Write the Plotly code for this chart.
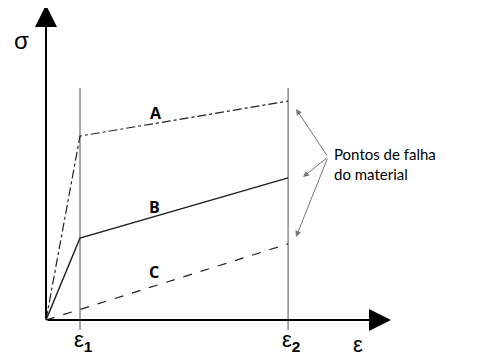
import plotly.graph_objects as go

# strain points (origin, eps1, eps2) and stress for the three materials
strain = [0.0, 1.0, 7.12]
stress_A = [0.0, 5.41, 6.44]
stress_B = [0.0, 2.41, 4.18]
stress_C = [0.0, 0.31, 2.24]
curve_labels = ["A", "B", "C"]
tick_labels = ["ε<sub><b>1</b></sub>", "ε<sub><b>2</b></sub>"]
note_text = "Pontos de falha<br>do material"

S = 34.0  # px per unit
W, H = 470, 352          # page body has an 8px margin
ox, oy = 46 - 8, 320 - 8
xr = [-ox / S, (W - ox) / S]
yr = [-(H - oy) / S, oy / S]

fig = go.Figure()

line_styles = [dict(dash="dashdot", width=1.2), dict(dash="solid", width=1.5), dict(dash="dash", width=1.2)]
for ys, st in zip([stress_A, stress_B, stress_C], line_styles):
    fig.add_trace(go.Scatter(x=strain, y=ys, mode="lines",
                             line=dict(color="#222", **st), hoverinfo="skip", showlegend=False))

# vertical lines at eps1, eps2
for xv in strain[1:]:
    fig.add_shape(type="line", x0=xv, x1=xv, y0=-10 / S, y1=232 / S,
                  line=dict(color="#555", width=1), layer="below")

# axes with arrows
fig.add_annotation(x=0, y=315 / S, ax=0, ay=0, xref="x", yref="y", axref="x", ayref="y",
                   showarrow=True, arrowhead=2, arrowsize=2.2, arrowwidth=2, arrowcolor="black", text="")
fig.add_annotation(x=345 / S, y=0, ax=0, ay=0, xref="x", yref="y", axref="x", ayref="y",
                   showarrow=True, arrowhead=2, arrowsize=2.2, arrowwidth=2, arrowcolor="black", text="")

font_main = "Liberation Sans, Arial, sans-serif"
fig.add_annotation(x=-25 / S, y=280 / S, text="σ", showarrow=False, font=dict(size=24, color="black", family=font_main))
fig.add_annotation(x=312 / S, y=-24 / S, text="ε", showarrow=False, font=dict(size=22, color="black", family=font_main))
for xv, t in zip(strain[1:], tick_labels):
    fig.add_annotation(x=xv + 3 / S, y=-21 / S, text=t, showarrow=False, yanchor="middle",
                       font=dict(size=22, color="black", family=font_main))

# curve labels
lab_pos = [(110 / S, 207 / S), (108 / S, 113 / S), (108 / S, 48 / S)]
for (lx, ly), t in zip(lab_pos, curve_labels):
    fig.add_annotation(x=lx, y=ly, text="<b>" + t + "</b>", showarrow=False,
                       font=dict(size=16, color="black", family="Open Sans, sans-serif"))

# failure note
tail = (282 / S, 163 / S)
heads = [(250 / S, 211 / S), (257 / S, 143 / S), (250 / S, 83 / S)]
for hx, hy in heads:
    fig.add_annotation(x=hx, y=hy, ax=tail[0], ay=tail[1], xref="x", yref="y", axref="x", ayref="y",
                       showarrow=True, arrowhead=2, arrowsize=1.2, arrowwidth=1, arrowcolor="#777", text="")
fig.add_annotation(x=286 / S, y=156 / S, text=note_text, showarrow=False, xanchor="left", yanchor="middle",
                   align="left", font=dict(size=15, color="black", family="Lato, Open Sans, sans-serif"))

fig.update_xaxes(range=xr, visible=False, fixedrange=True)
fig.update_yaxes(range=yr, visible=False, fixedrange=True)
fig.update_layout(width=W, height=H, margin=dict(l=0, r=0, t=0, b=0),
                  plot_bgcolor="white", paper_bgcolor="white", showlegend=False)
fig.write_html("out.html", config={"displayModeBar": False})
